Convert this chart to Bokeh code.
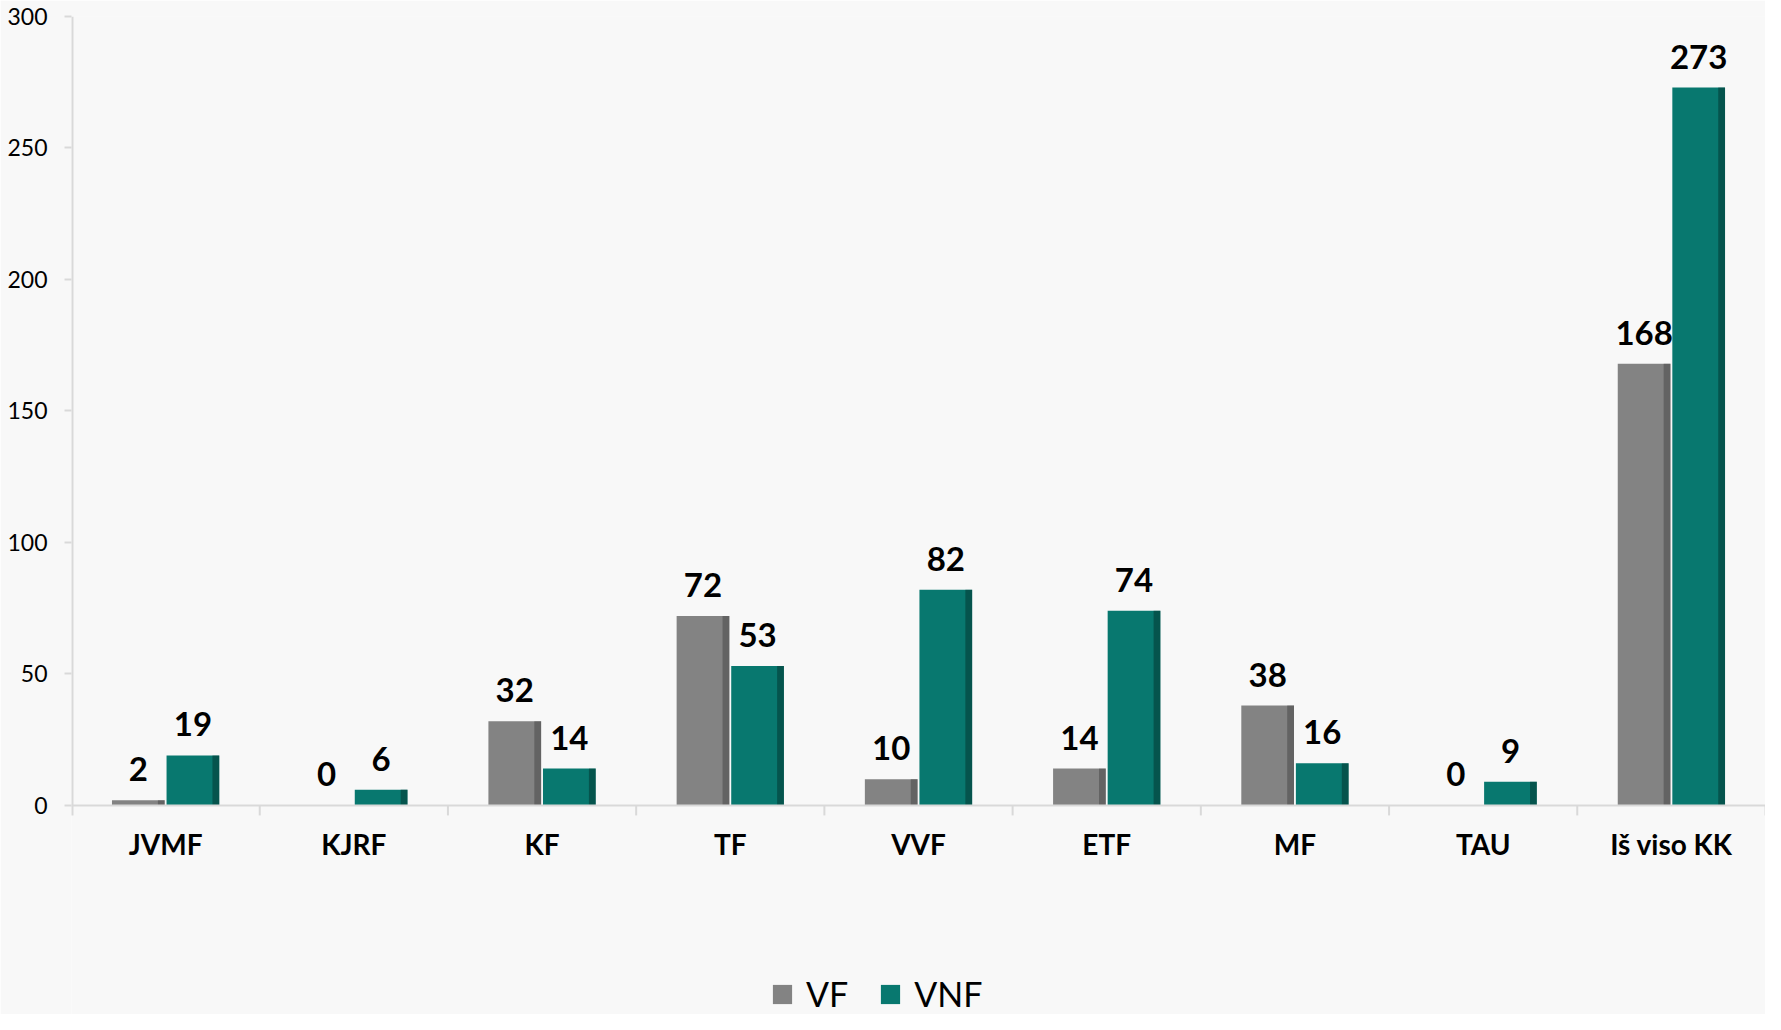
from bokeh.plotting import figure
from bokeh.models import (ColumnDataSource, Range1d, FixedTicker, Legend, LegendItem, Span)
from bokeh.transform import dodge
from bokeh.core.properties import value
from bokeh.embed import file_html
from bokeh.resources import INLINE

categories = ["JVMF", "KJRF", "KF", "TF", "VVF", "ETF", "MF", "TAU", "Iš viso KK"]
vf = [2, 0, 32, 72, 10, 14, 38, 0, 168]
vnf = [19, 6, 14, 53, 82, 74, 16, 9, 273]
y_ticks = [0, 50, 100, 150, 200, 250, 300]

n = len(categories)
xpos = [i + 0.5 for i in range(n)]
src = ColumnDataSource(dict(
    x=xpos, cat=categories, vf=vf, vnf=vnf, zero=[0] * n,
    vf_txt=[str(v) for v in vf], vnf_txt=[str(v) for v in vnf],
))

GREY = "#838383"
TEAL = "#08786f"
AXIS = "#d9d9d9"
OFF = 0.145
BW = 0.28
TICK = 3.8  # boundary tick length below the axis, in data units (~10 px)

# frame runs from the 300 line down to the legend; the category axis is drawn at y = 0
p = figure(width=1765, height=1014, output_backend="svg", toolbar_location=None,
           x_range=Range1d(0, n), y_range=Range1d(-79.5, 300),
           min_border_left=71, min_border_right=0, min_border_top=16, min_border_bottom=0)
p.background_fill_color = "#f8f8f8"
p.border_fill_color = "#f8f8f8"
p.outline_line_color = None
p.xgrid.visible = False
p.ygrid.visible = False
p.xaxis.visible = False

r_vf = p.vbar(x=dodge("x", -OFF, range=p.x_range), top="vf", width=BW, source=src,
              fill_color=GREY, line_color=None)
r_vnf = p.vbar(x=dodge("x", OFF, range=p.x_range), top="vnf", width=BW, source=src,
               fill_color=TEAL, line_color=None)
# darker right edge for a bit of depth
p.vbar(x=dodge("x", -OFF + BW / 2 - 0.018, range=p.x_range), top="vf", width=0.036,
       source=src, fill_color="#3c3c3c", fill_alpha=0.45, line_color=None)
p.vbar(x=dodge("x", OFF + BW / 2 - 0.018, range=p.x_range), top="vnf", width=0.036,
       source=src, fill_color="#022f2c", fill_alpha=0.5, line_color=None)

# category axis line and boundary ticks
p.add_layout(Span(location=0, dimension="width", line_color=AXIS, line_width=2))
bounds = list(range(1, n + 1))
p.segment(x0=bounds, y0=[0] * len(bounds), x1=bounds, y1=[-TICK] * len(bounds),
          line_color=AXIS, line_width=2)
# value axis line: from the first boundary tick up to the top tick
p.segment(x0=[0], y0=[-TICK], x1=[0], y1=[max(y_ticks)], line_color=AXIS, line_width=4)

for col, txt, off in (("vf", "vf_txt", -OFF), ("vnf", "vnf_txt", OFF)):
    p.text(x=dodge("x", off, range=p.x_range), y=col, text=txt, source=src,
           text_align="center", text_baseline="alphabetic", y_offset=-31,
           text_font=value("Lato"), text_font_style="bold",
           text_font_size="33px", text_color="#000000")

# category labels under the axis
p.text(x="x", y="zero", text="cat", source=src, text_align="center",
       text_baseline="middle", y_offset=39, text_font=value("Lato"),
       text_font_style="bold", text_font_size="28px", text_color="#000000")

ya = p.yaxis[0]
ya.ticker = FixedTicker(ticks=y_ticks)
ya.major_tick_out = 7
ya.major_tick_in = 0
ya.minor_tick_out = 0
ya.minor_tick_in = 0
ya.major_tick_line_color = AXIS
ya.major_tick_line_width = 2
ya.axis_line_color = None
ya.major_label_standoff = 17
ya.major_label_text_font = "Lato"
ya.major_label_text_font_size = "23px"
ya.major_label_text_color = "#000000"

legend = Legend(items=[LegendItem(label="VF", renderers=[r_vf]),
                       LegendItem(label="VNF", renderers=[r_vnf])],
                orientation="horizontal", location=(699, 0),
                glyph_width=24, glyph_height=24, label_standoff=12, spacing=30,
                label_text_font="Lato", label_text_font_size="34px",
                label_text_color="#000000", padding=0, margin=0,
                background_fill_alpha=0, border_line_alpha=0)
p.add_layout(legend, "center")

open("out.html", "w").write(file_html(p, INLINE))
